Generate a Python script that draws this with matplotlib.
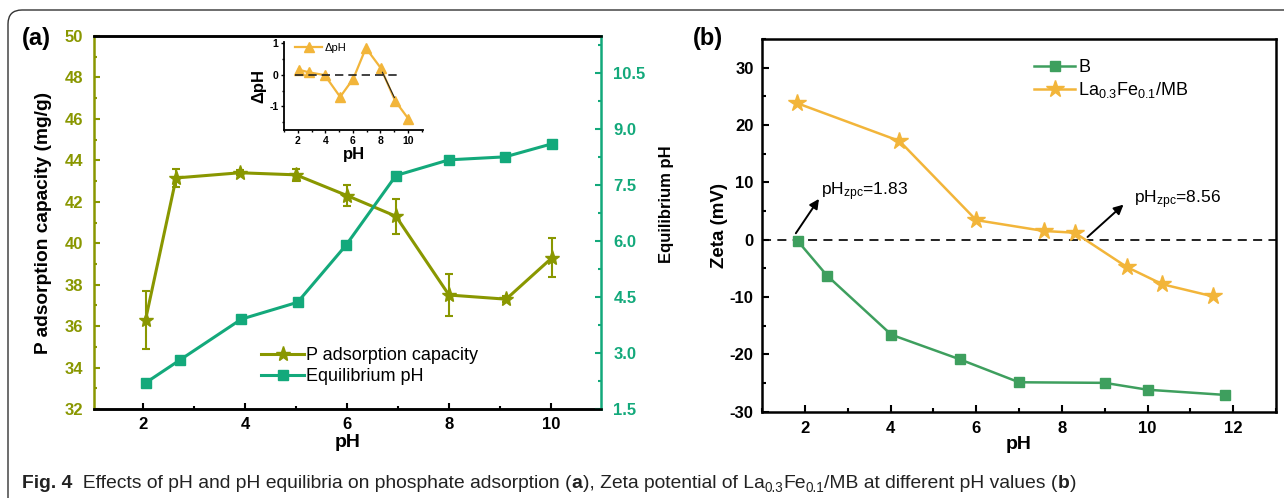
import matplotlib
matplotlib.use("Agg")
import matplotlib.pyplot as plt
from matplotlib.patches import FancyBboxPatch
from matplotlib.transforms import IdentityTransform
from matplotlib.ticker import MultipleLocator
from matplotlib.lines import Line2D

plt.rcParams['font.family'] = ['Liberation Sans', 'DejaVu Sans']
plt.rcParams['mathtext.fontset'] = 'custom'
plt.rcParams['mathtext.rm'] = 'Liberation Sans'
plt.rcParams['mathtext.it'] = 'Liberation Sans'
plt.rcParams['mathtext.bf'] = 'Liberation Sans:bold'
plt.rcParams['axes.unicode_minus'] = False

# ---------------- data (a) ----------------
ads_ph = [2.05, 2.65, 3.9, 5.0, 6.0, 6.96, 8.0, 9.12, 10.02]
ads_cap = [36.3, 43.15, 43.4, 43.3, 42.3, 41.3, 37.5, 37.3, 39.3]
ads_err = [1.4, 0.45, 0.12, 0.3, 0.5, 0.85, 1.0, 0.15, 0.95]
eq_ph_x = [2.05, 2.72, 3.93, 5.03, 5.98, 6.96, 8.0, 9.1, 10.02]
eq_ph = [2.2, 2.81, 3.91, 4.36, 5.89, 7.76, 8.18, 8.26, 8.61]
# inset
d_x = [2.07, 2.8, 3.96, 5.08, 6.04, 6.95, 8.04, 9.08, 10.03]
d_ph = [0.16, 0.08, -0.01, -0.7, -0.12, 0.85, 0.21, -0.83, -1.39]
# ---------------- data (b) ----------------
b_ph = [1.84, 2.52, 4.02, 5.62, 7.0, 9.0, 10.0, 11.8]
b_zeta = [-0.3, -6.3, -16.6, -20.9, -24.9, -25.0, -26.2, -27.1]
la_ph = [1.82, 4.21, 6.0, 7.58, 8.3, 9.52, 10.35, 11.52]
la_zeta = [23.8, 17.2, 3.4, 1.5, 1.2, -4.8, -7.8, -9.9]

OLIVE = '#899700'
TEAL = '#13A97B'
GREEN = '#3E9F5E'
YEL = '#F2B53A'

W, H = 1284, 498
fig = plt.figure(figsize=(W / 100, H / 100), dpi=100)

def fx(px):
    return px / W

def fy(py):
    return 1 - py / H

# border
border = FancyBboxPatch((8, -30), W + 30, H - 10 + 30,
                        boxstyle="round,pad=0,rounding_size=14",
                        transform=IdentityTransform(), fill=False,
                        edgecolor='#333333', linewidth=1.0)
fig.patches.append(border)

# ---------------- panel (a) ----------------
ax = fig.add_axes([fx(94), fy(409), fx(601) - fx(94), fy(36) - fy(409)])
ax2 = ax.twinx()
ax.errorbar(ads_ph, ads_cap, yerr=ads_err, color=OLIVE, marker='*', ms=11,
            lw=2.2, capsize=3, capthick=1.5, elinewidth=1.5)
ax2.plot(eq_ph_x, eq_ph, color=TEAL, marker='s', ms=7.5, lw=2.2)
ax.set_xlim(1.04, 10.98)
ax.set_ylim(32, 50)
ax2.set_ylim(1.5, 11.5)
ax.xaxis.set_major_locator(MultipleLocator(2))
ax.xaxis.set_minor_locator(MultipleLocator(1))
ax.yaxis.set_major_locator(MultipleLocator(2))
ax.yaxis.set_minor_locator(MultipleLocator(1))
ax2.yaxis.set_minor_locator(MultipleLocator(0.75))
ax2.set_yticks([1.5, 3.0, 4.5, 6.0, 7.5, 9.0, 10.5])
ax2.set_yticklabels(['1.5', '3.0', '4.5', '6.0', '7.5', '9.0', '10.5'])
for a in (ax, ax2):
    for s in a.spines.values():
        s.set_linewidth(1.8)
ax.spines['left'].set_color(OLIVE)
ax2.spines['left'].set_visible(False)
ax2.spines['right'].set_color(TEAL)
ax.spines['right'].set_visible(False)
ax.tick_params(axis='x', which='both', direction='in', top=False, labelsize=12, width=1.5, pad=6)
ax.tick_params(axis='x', which='major', length=4)
ax.tick_params(axis='x', which='minor', length=2.5)
ax.tick_params(axis='y', which='both', direction='in', colors=OLIVE, labelsize=12, width=1.5, pad=8)
ax.tick_params(axis='y', which='major', length=4)
ax.tick_params(axis='y', which='minor', length=2.5)
ax2.tick_params(axis='y', which='both', direction='in', colors=TEAL, labelsize=12, width=1.5, pad=9)
ax2.tick_params(axis='y', which='major', length=4)
ax2.tick_params(axis='y', which='minor', length=2.5)
for lab in ax.get_xticklabels() + ax.get_yticklabels() + ax2.get_yticklabels():
    lab.set_fontweight('bold')
ax.set_xlabel('pH', fontsize=14, fontweight='bold', labelpad=1)
ax.set_ylabel('P adsorption capacity (mg/g)', fontsize=13.8, fontweight='bold', labelpad=9)
ax2.set_ylabel('Equilibrium pH', fontsize=12, fontweight='bold', labelpad=7)
ax2.yaxis.set_label_coords(1.115, 0.55)
hA = [Line2D([], [], color=OLIVE, marker='*', ms=11, lw=2.2),
      Line2D([], [], color=TEAL, marker='s', ms=7.5, lw=2.2)]
ax2.legend(hA, ['P adsorption capacity', 'Equilibrium pH'], loc='lower left',
           bbox_to_anchor=(0.315, 0.045), frameon=False, fontsize=13,
           handlelength=2.4, handletextpad=0.1, labelspacing=0.2, borderaxespad=0)
fig.text(fx(22), fy(38), '(a)', fontsize=17, fontweight='bold', va='center', ha='left')

# inset
axi = fig.add_axes([fx(284), fy(130), fx(423) - fx(284), fy(41.7) - fy(130)])
axi.plot(d_x, d_ph, color=YEL, marker='^', ms=7, lw=1.6, label='\u0394pH')
axi.plot([1.8, 9.2], [0, 0], ls=(0, (5, 3)), color='#222222', lw=1.2)
axi.plot([8.15, 9.02], [0.08, -0.72], color='#222222', lw=0.8)
axi.set_xlim(1.0, 11.1)
axi.set_ylim(-1.75, 1.05)
axi.spines['top'].set_visible(False)
axi.spines['right'].set_visible(False)
for s in ('left', 'bottom'):
    axi.spines[s].set_linewidth(1.3)
axi.set_xticks([2, 4, 6, 8, 10])
axi.xaxis.set_minor_locator(MultipleLocator(1))
axi.set_yticks([-1, 0, 1])
axi.yaxis.set_minor_locator(MultipleLocator(0.5))
axi.tick_params(axis='both', which='major', direction='out', length=2.5, labelsize=7.5, pad=1.5, width=1)
axi.tick_params(axis='both', which='minor', direction='out', length=1.5, width=1)
for lab in axi.get_xticklabels() + axi.get_yticklabels():
    lab.set_fontweight('bold')
axi.set_xlabel('pH', fontsize=12, fontweight='bold', labelpad=1)
axi.set_ylabel('\u0394pH', fontsize=12, fontweight='bold', labelpad=2)
axi.legend(loc='upper left', bbox_to_anchor=(0.05, 1.04), frameon=False, fontsize=8,
           handlelength=2.4, handletextpad=0.2, borderaxespad=0)

# ---------------- panel (b) ----------------
bx = fig.add_axes([fx(762), fy(411.5), fx(1276) - fx(762), fy(39) - fy(411.5)])
bx.plot(b_ph, b_zeta, color=GREEN, marker='s', ms=7, lw=1.8, label='B')
bx.plot(la_ph, la_zeta, color=YEL, marker='*', ms=13, lw=1.8,
        label='La$_{0.3}$Fe$_{0.1}$/MB')
bx.axhline(0, ls=(0, (5, 3.5)), color='#111111', lw=1.3, zorder=0)
bx.set_xlim(1, 13)
bx.set_ylim(-30, 35)
bx.xaxis.set_major_locator(MultipleLocator(2))
bx.xaxis.set_minor_locator(MultipleLocator(1))
bx.yaxis.set_minor_locator(MultipleLocator(5))
bx.set_yticks([-30, -20, -10, 0, 10, 20, 30])
for s in bx.spines.values():
    s.set_linewidth(1.8)
bx.tick_params(axis='both', which='both', direction='in', top=False, right=False,
               labelsize=12, width=1.5)
bx.tick_params(axis='both', which='major', length=5)
bx.tick_params(axis='both', which='minor', length=3)
bx.tick_params(axis='x', pad=7)
bx.tick_params(axis='y', pad=6)
for lab in bx.get_xticklabels() + bx.get_yticklabels():
    lab.set_fontweight('bold')
bx.set_xlabel('pH', fontsize=14, fontweight='bold', labelpad=0)
bx.set_ylabel('Zeta (mV)', fontsize=13.5, fontweight='bold', labelpad=1)
bx.legend(loc='upper left', bbox_to_anchor=(0.515, 0.965), frameon=False, fontsize=13,
          handlelength=2.3, handletextpad=0.15, labelspacing=0.2, borderaxespad=0)
bx.annotate('', xy=(2.33, 7.1), xytext=(1.79, 1.1),
            arrowprops=dict(arrowstyle='-|>', color='black', lw=1.4, mutation_scale=14,
                            shrinkA=0, shrinkB=0))
bx.text(2.38, 8.3, 'pH$_{zpc}$=1.83', fontsize=12.5, ha='left', va='center')
bx.annotate('', xy=(9.44, 6.1), xytext=(8.6, 0.45),
            arrowprops=dict(arrowstyle='-|>', color='black', lw=1.4, mutation_scale=14,
                            shrinkA=0, shrinkB=0))
bx.text(9.68, 6.9, 'pH$_{zpc}$=8.56', fontsize=12.5, ha='left', va='center')
fig.text(fx(693), fy(38), '(b)', fontsize=17, fontweight='bold', va='center', ha='left')

# ---------------- caption ----------------
CAP = ['Liberation Sans', 'DejaVu Sans']
cs = 13.9
t = fig.text(fx(22), fy(488), 'Fig. 4', fontsize=cs, fontweight='bold', family=CAP,
             va='baseline', ha='left', color='#222222')

def chain(prev, s, size=cs, weight='normal', dy=0):
    return fig.axes[0].annotate(s, xy=(1, 0), xycoords=prev, xytext=(0, dy),
                                textcoords='offset points', fontsize=size, fontweight=weight,
                                family=CAP, va='bottom', ha='left', annotation_clip=False,
                                color='#222222')

parts = [
    ('  Effects of pH and pH equilibria on phosphate adsorption (', cs, 'normal', 0),
    ('a', cs, 'bold', 0),
    ('), Zeta potential of La', cs, 'normal', 0),
    ('0.3', cs * 0.7, 'normal', -2.5),
    ('Fe', cs, 'normal', 2.5),
    ('0.1', cs * 0.7, 'normal', -2.5),
    ('/MB at different pH values (', cs, 'normal', 2.5),
    ('b', cs, 'bold', 0),
    (')', cs, 'normal', 0),
]
prev = t
for s, size, w, dy in parts:
    prev = chain(prev, s, size, w, dy)

fig.savefig('out.png', dpi=100)
